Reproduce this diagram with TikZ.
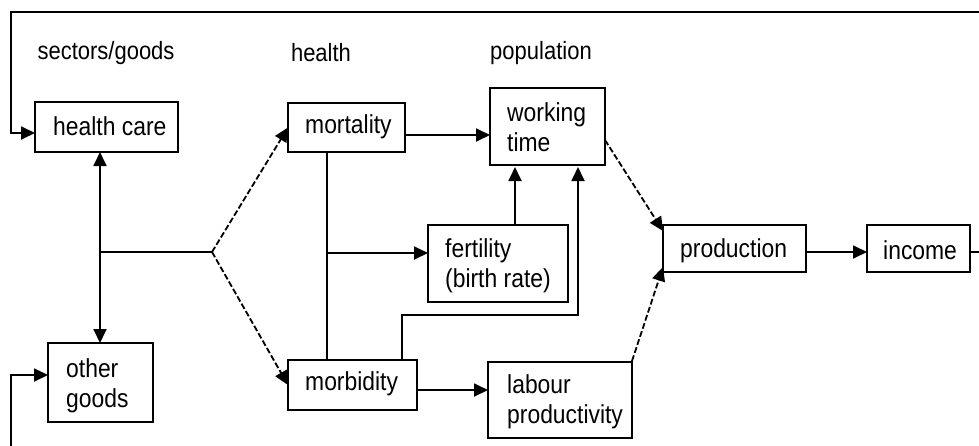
\documentclass[tikz,border=0pt]{standalone}
\usepackage{fontspec}
\setmainfont[FakeStretch=0.88]{Liberation Sans}
\usetikzlibrary{arrows.meta}
\begin{document}
\begin{tikzpicture}[x=1pt,y=-1pt,
  box/.style={draw, line width=2.1pt, anchor=north west, outer sep=0pt, inner sep=0pt},
  txt/.style={anchor=west, inner sep=0pt, align=left, font=\fontsize{26}{30}\selectfont},
  lbl/.style={inner sep=0pt, font=\fontsize{25}{30}\selectfont},
  conn/.style={line width=1.8pt, -{Triangle[length=14pt,width=13pt]}},
  plain/.style={line width=1.8pt},
  dsh/.style={line width=1.8pt, dash pattern=on 6pt off 2.5pt, -{Triangle[length=14pt,width=13pt]}}
]
\clip (0,0) rectangle (979,445);
\fill[white] (0,0) rectangle (979,445);

% section labels
\node[lbl] (l1) at (106,53) {sectors/goods};
\node[lbl] (l2) at (321,53) {health};
\node[lbl] (l3) at (541,53) {population};

% boxes
\node[box, minimum width=143pt, minimum height=50pt] (hc) at (35,102) {};
\node[txt] (hct) at ([xshift=18pt,yshift=1pt]hc.west) {health care};
\node[box, minimum width=105pt, minimum height=79pt] (og) at (48,343) {};
\node[txt] (ogt) at ([xshift=18pt,yshift=-3pt]og.west) {other\\goods};
\node[box, minimum width=117pt, minimum height=49pt] (mt) at (288,103) {};
\node[txt] (mtt) at ([xshift=17pt,yshift=1pt]mt.west) {mortality};
\node[box, minimum width=129pt, minimum height=50pt] (mb) at (288,360) {};
\node[txt] (mbt) at ([xshift=17pt,yshift=1pt]mb.west) {morbidity};
\node[box, minimum width=115pt, minimum height=77pt] (wt) at (490,88) {};
\node[txt] (wtt) at ([xshift=17pt,yshift=-1pt]wt.west) {working\\time};
\node[box, minimum width=140pt, minimum height=77pt] (ft) at (428,225) {};
\node[txt] (ftt) at ([xshift=17pt,yshift=-2pt]ft.west) {fertility\\(birth rate)};
\node[box, minimum width=144pt, minimum height=76pt] (lp) at (488,362) {};
\node[txt] (lpt) at ([xshift=19pt,yshift=-2pt]lp.west) {labour\\productivity};
\node[box, minimum width=143pt, minimum height=47pt] (pr) at (663,225) {};
\node[txt] (prt) at ([xshift=17pt,yshift=-2pt]pr.west) {production};
\node[box, minimum width=103pt, minimum height=47pt] (in) at (867,225) {};
\node[txt] (int) at ([xshift=16pt,yshift=-2pt]in.west) {income};

% helper coordinates
\coordinate (rowA) at (0,252);
\coordinate (hcin) at (35,133);
\coordinate (ogin) at (48,375);
\coordinate (bl) at (11,460);
\coordinate (tr) at (995,12);
\coordinate (tl) at (11,12);
\coordinate (J0) at (100,252);
\coordinate (J) at (212,252);
\coordinate (r1) at (0,135);
\coordinate (v1) at (327,0);
\coordinate (r2) at (327,253);
\coordinate (v2) at (515,0);
\coordinate (v3) at (402,0);
\coordinate (v4) at (578,315);
\coordinate (r3) at (0,390);
\coordinate (wtout) at (605,140);
\coordinate (prin1) at (663,231);
\coordinate (lpout) at (632,361);
\coordinate (prin2) at (663,267);

% connectors
\draw[conn] (pr.east |- rowA) -- (in.west |- rowA);
\draw[conn] (in.east |- rowA) -| (tr) -- (tl) |- (hcin);
\draw[conn] (bl) |- (ogin);
\draw[conn, {Triangle[length=14pt,width=13pt]}-{Triangle[length=14pt,width=13pt]}] (hc.south -| J0) -- (og.north -| J0);
\draw[plain] (J0) -- (J);
\draw[dsh] (J) -- (mt.west);
\draw[dsh] (J) -- (mb.west);
\draw[conn] (mt.east |- r1) -- (wt.west |- r1);
\draw[plain] (mt.south -| v1) -- (mb.north -| v1);
\draw[conn] (r2) -- (ft.west |- r2);
\draw[conn, shorten >=2pt] (ft.north -| v2) -- (wt.south -| v2);
\draw[conn, shorten >=2pt] (mb.north -| v3) |- (v4) -- (wt.south -| v4);
\draw[conn] (mb.east |- r3) -- (lp.west |- r3);
\draw[dsh] (wtout) -- (prin1);
\draw[dsh] (lpout) -- (prin2);
\end{tikzpicture}
\end{document}
